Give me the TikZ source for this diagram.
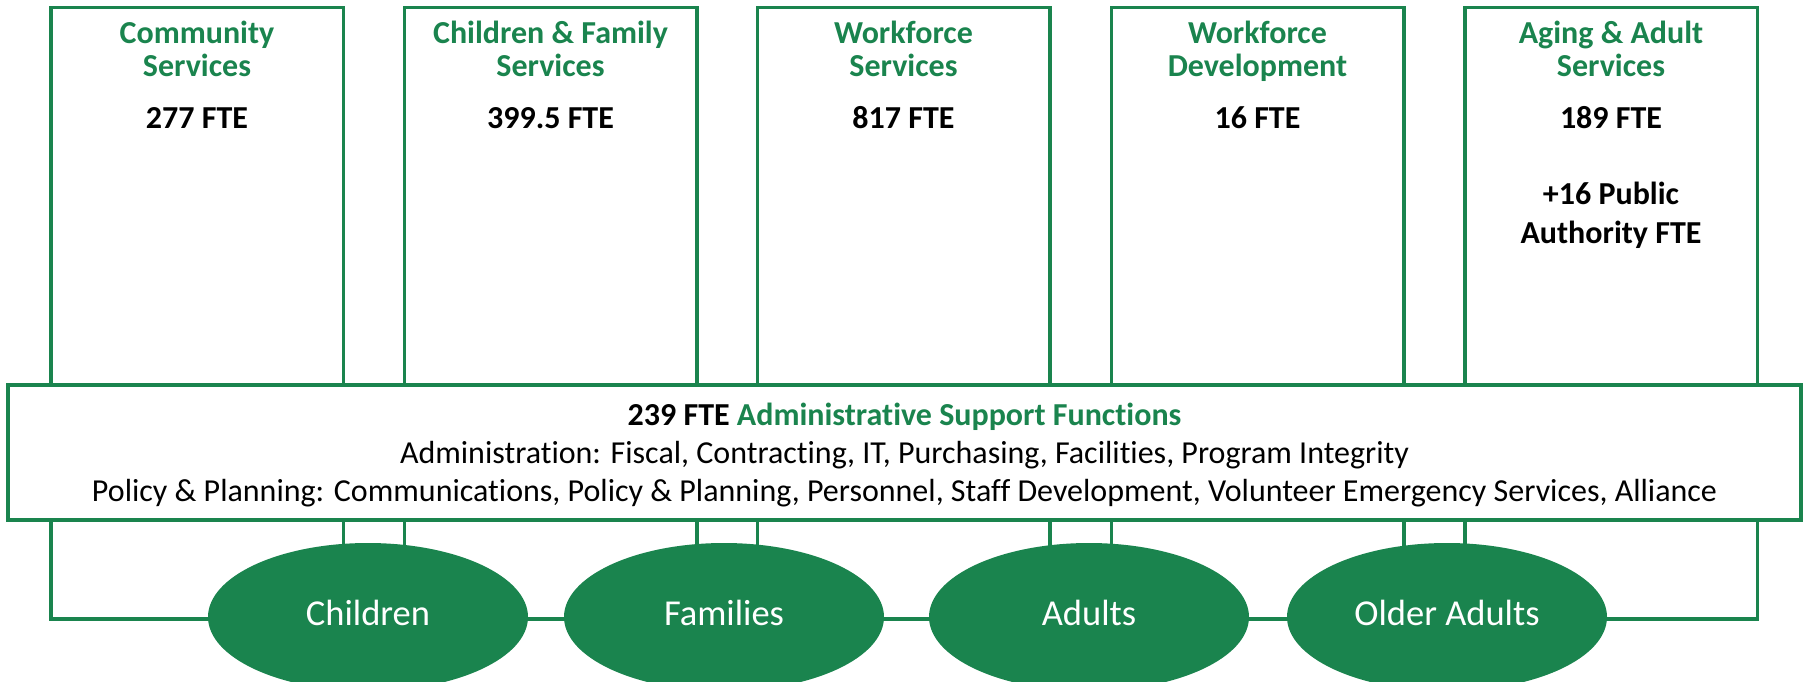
\documentclass[tikz,border=0pt]{standalone}
\usepackage{fontspec}
\setmainfont{Carlito}[Ligatures=NoCommon]
\usetikzlibrary{shapes.geometric}

\definecolor{hsagreen}{HTML}{1A844E}

\tikzset{
  unitbox/.style={draw=hsagreen, line width=3.5pt, minimum width=292.5pt, minimum height=611.5pt, inner sep=0pt, anchor=north},
  unitname/.style={align=center, anchor=base, inner sep=0pt, text=hsagreen, font=\bfseries\fontsize{32}{33}\selectfont},
  unitfte/.style={align=center, anchor=base, inner sep=0pt, font=\bfseries\fontsize{32}{39}\selectfont},
  adminbox/.style={draw=hsagreen, fill=white, line width=3.5pt, minimum width=1793pt, minimum height=135pt, inner sep=0pt},
  admintext/.style={align=center, anchor=base, inner sep=0pt, font=\fontsize{32}{38}\selectfont},
  client/.style={ellipse, fill=hsagreen, text=white, minimum width=320pt, minimum height=148pt, inner sep=0pt, text height=16pt, text depth=0pt, font=\fontsize{36.5}{40}\selectfont},
}

\begin{document}
\begin{tikzpicture}[x=1pt, y=-1pt]
  \clip (0,0) rectangle (1808,681);
  % Service units: name / x centre / title / staff
  \foreach \nm/\cx/\ttl/\fte in {cs/197/{Community\\Services}/{277 FTE},
      cfs/550.5/{Children \& Family\\Services}/{399.5 FTE},
      ws/903.5/{Workforce\\Services}/{817 FTE},
      wd/1257.5/{Workforce\\Development}/{16 FTE},
      aas/1611/{Aging \& Adult\\Services}/{189 FTE}}{
    \node[unitbox] (\nm) at (\cx,5.5) {};
    \node[unitname] (\nm-name) at (\cx,76) {\ttl};
    \node[unitfte] (\nm-fte) at (\cx,128) {\fte};
  }
  \node[unitfte] (aas-pa) at (1611,243) {+16 Public\\Authority FTE};
  % Shared admin band across all units
  \node[adminbox] (admin) at (904.5,452.5) {};
  \node[admintext] (admin-text) at (904.5,501) {{\bfseries 239 FTE \textcolor{hsagreen}{Administrative Support Functions}}\\
    Administration: Fiscal, Contracting, IT, Purchasing, Facilities, Program Integrity\\
    Policy \& Planning: Communications, Policy \& Planning, Personnel, Staff Development, Volunteer Emergency Services, Alliance};
  % Client groups
  \node[client] (children) at (368,617) {Children};
  \node[client] (families) at (724,617) {Families};
  \node[client] (adults) at (1089,617) {Adults};
  \node[client] (older) at (1447,617) {Older Adults};
\end{tikzpicture}
\end{document}
